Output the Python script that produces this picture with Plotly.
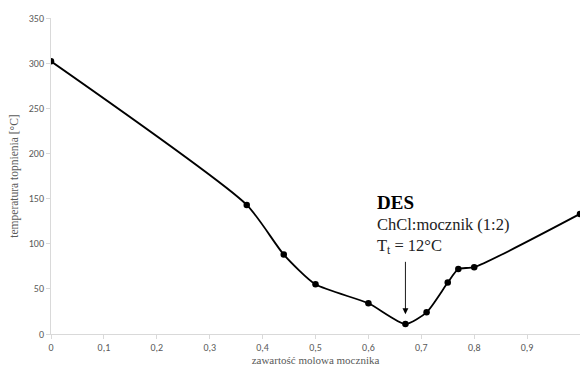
import plotly.graph_objects as go

x_mol = [0, 0.37, 0.44, 0.5, 0.6, 0.67, 0.71, 0.75, 0.77, 0.8, 1.0]
t_melt = [302, 143, 88, 55, 34, 11, 24, 57, 72, 74, 133]
x_ticks = [0, 0.1, 0.2, 0.3, 0.4, 0.5, 0.6, 0.7, 0.8, 0.9, 1.0]
y_ticks = [0, 50, 100, 150, 200, 250, 300, 350]

serif = "Liberation Serif, Times New Roman, serif"
sans = "Carlito, Liberation Sans, Arial, sans-serif"

fig = go.Figure()
fig.add_trace(go.Scatter(
    x=x_mol, y=t_melt, mode="lines+markers",
    line=dict(color="black", width=1.8, shape="spline", smoothing=0.6),
    marker=dict(color="black", size=6.5),
    cliponaxis=True, showlegend=False,
))

fig.add_annotation(
    x=0.67, y=22, xref="x", yref="y", ax=0.67, ay=91, axref="x", ayref="y",
    showarrow=True, arrowhead=2, arrowsize=1.3, arrowwidth=0.9, arrowcolor="black", text=" ",
)
fig.add_annotation(x=0.612, y=146, xref="x", yref="y", xanchor="left", yanchor="middle",
                   text="<b>DES</b>", showarrow=False, font=dict(family=serif, size=19, color="black"))
fig.add_annotation(x=0.612, y=121, xref="x", yref="y", xanchor="left", yanchor="middle",
                   text="ChCl:mocznik (1:2)", showarrow=False, font=dict(family=serif, size=16.5, color="#222"))
fig.add_annotation(x=0.612, y=98, xref="x", yref="y", xanchor="left", yanchor="middle",
                   text="T<sub>t</sub> = 12°C", showarrow=False, font=dict(family=serif, size=16.5, color="#222"))

fig.update_layout(
    width=580, height=369,
    margin=dict(l=51, r=0, t=18, b=35, autoexpand=False),
    paper_bgcolor="white", plot_bgcolor="white",
    separators=", ",
    xaxis=dict(
        range=[0, 1.0], tickvals=x_ticks, tickformat=".1~f", automargin=False,
        showgrid=False, zeroline=False, showline=True, linecolor="#d9d9d9", linewidth=1,
        ticks="outside", ticklen=4, tickcolor="#d9d9d9",
        tickfont=dict(family=sans, size=10, color="#595959"),
        title=dict(text="zawartość molowa mocznika", font=dict(family=serif, size=11, color="#595959"), standoff=2),
    ),
    yaxis=dict(
        range=[0, 350], tickvals=y_ticks, automargin=False,
        showgrid=False, zeroline=False, showline=True, linecolor="#d9d9d9", linewidth=1,
        ticks="outside", ticklen=4, tickcolor="#d9d9d9",
        tickfont=dict(family=sans, size=10, color="#595959"),
        title=dict(text="temperatura topnienia [°C]", font=dict(family=serif, size=11.5, color="#595959"), standoff=7),
    ),
)

fig.write_html(
    "out.html",
    config={"displayModeBar": False},
    post_script="document.body.style.margin='0';document.body.style.overflow='hidden';",
)
